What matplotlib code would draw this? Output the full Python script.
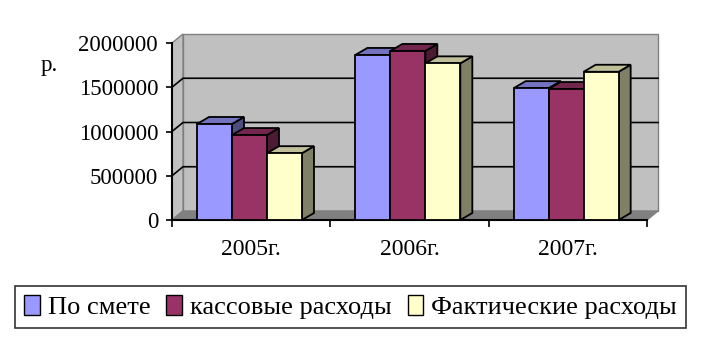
import numpy as np
import matplotlib.pyplot as plt
from matplotlib.patches import Polygon, Patch

plt.rcParams['font.family'] = ['Liberation Serif', 'DejaVu Serif']

# data
years = ['2005г.', '2006г.', '2007г.']
po_smete = [1085000, 1865000, 1490000]
kassovye = [960000, 1910000, 1480000]
fakt = [755000, 1770000, 1675000]
series = [po_smete, kassovye, fakt]
names = ['По смете', 'кассовые расходы', 'Фактические расходы']
colors = ['#9999FF', '#993366', '#FFFFCC']
tops = ['#7373BF', '#73264D', '#BFBF99']
sides = ['#4D4D80', '#4D1A33', '#808066']
yticks = [0, 500000, 1000000, 1500000, 2000000]

W, H = 701, 338
fig = plt.figure(figsize=(W / 100, H / 100), dpi=100)
ax = fig.add_axes([172 / W, (H - 220) / H, 475 / W, 177 / H])
ax.set_xlim(0, 3)
ax.set_ylim(0, 2000000)

# pixel -> data conversion for the fake depth
px_x = 3 / 475
px_y = 2000000 / 177
wdx, wdy = 11 * px_x, 9 * px_y     # wall depth
bdx, bdy = 12 * px_x, 7 * px_y     # bar depth

# walls and floor
ymax = yticks[-1]
ax.add_patch(Polygon([(wdx, wdy), (3 + wdx, wdy), (3 + wdx, ymax + wdy), (wdx, ymax + wdy)],
                     closed=True, fc='#C0C0C0', ec='#808080', lw=1, clip_on=False, zorder=0))
ax.add_patch(Polygon([(0, 0), (wdx, wdy), (wdx, ymax + wdy), (0, ymax)],
                     closed=True, fc='#C0C0C0', ec='#808080', lw=1, clip_on=False, zorder=0))
ax.add_patch(Polygon([(0, 0), (3, 0), (3 + wdx, wdy), (wdx, wdy)],
                     closed=True, fc='#808080', ec='#808080', lw=1, clip_on=False, zorder=0))
for v in yticks[1:-1]:
    ax.plot([0, wdx, 3 + wdx], [v, v + wdy, v + wdy], color='black', lw=1.2,
            clip_on=False, zorder=1)

# bars
width = 0.221
start = 0.158
for k, vals in enumerate(series):
    for i, v in enumerate(vals):
        x0 = i + start + k * width
        x1 = x0 + width
        ax.add_patch(Polygon([(x1, 0), (x1 + bdx, bdy), (x1 + bdx, v + bdy), (x1, v)],
                             closed=True, fc=sides[k], ec='black', lw=1.3, clip_on=False, zorder=2))
        ax.add_patch(Polygon([(x0, v), (x0 + bdx, v + bdy), (x1 + bdx, v + bdy), (x1, v)],
                             closed=True, fc=tops[k], ec='black', lw=1.3, clip_on=False, zorder=2))
        ax.bar(x0, v, width, align='edge', color=colors[k], edgecolor='black', lw=1.3,
               zorder=3, clip_on=False)

# axes styling
for s in ['top', 'right']:
    ax.spines[s].set_visible(False)
ax.spines['left'].set_linewidth(1.5)
ax.spines['bottom'].set_linewidth(1.5)
ax.patch.set_visible(False)
ax.set_yticks(yticks)
ax.set_yticklabels([str(v) for v in yticks], fontsize=16.5)
ax.tick_params(axis='y', length=4, width=1.2, pad=6)
ax.set_xticks([0, 1, 2, 3])
ax.set_xticklabels([])
ax.tick_params(axis='x', length=5, width=1.2)
ax.set_xticks([0.5, 1.5, 2.5], minor=True)
ax.set_xticklabels(years, minor=True, fontsize=17)
ax.tick_params(axis='x', which='minor', length=0, pad=14)

fig.text(41 / W, 1 - 66 / H, 'р.', fontsize=16.5, va='center', ha='left')

handles = [Patch(fc=c, ec='black', lw=1) for c in colors]
leg = fig.legend(handles, names, loc='center', bbox_to_anchor=(0.5, 1 - 307 / H),
                 ncol=3, fontsize=19, frameon=True, fancybox=False,
                 handlelength=0.6, handleheight=0.8, handletextpad=0.3,
                 columnspacing=0.6, borderpad=0.35)
leg.get_frame().set_edgecolor('black')
leg.get_frame().set_linewidth(1.2)

fig.savefig('out.png', dpi=100)
